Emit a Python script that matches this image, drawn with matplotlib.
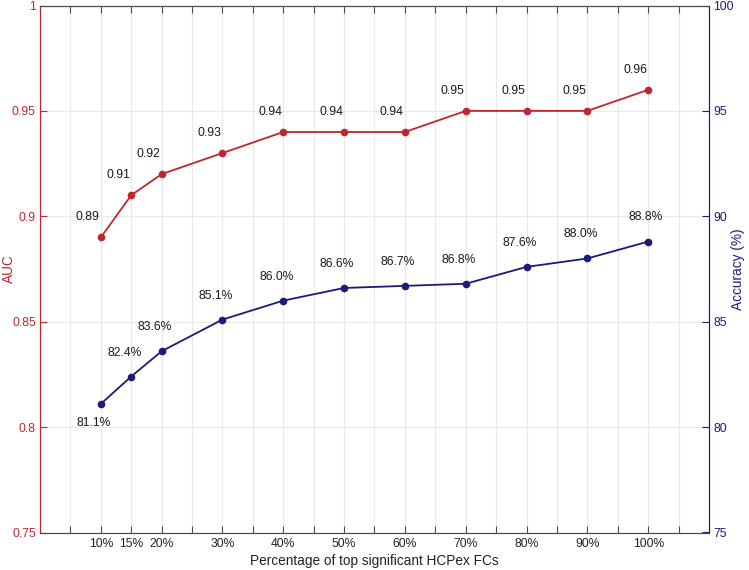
import matplotlib
matplotlib.use("Agg")
import matplotlib.pyplot as plt

# data
pct = [10, 15, 20, 30, 40, 50, 60, 70, 80, 90, 100]
auc = [0.89, 0.91, 0.92, 0.93, 0.94, 0.94, 0.94, 0.95, 0.95, 0.95, 0.96]
acc = [81.1, 82.4, 83.6, 85.1, 86.0, 86.6, 86.7, 86.8, 87.6, 88.0, 88.8]
xtick_pos = list(range(5, 110, 5))
xtick_lab = ["%d%%" % v if v in pct else "" for v in xtick_pos]

RED = "#C0262D"
BLUE = "#1B1B78"
GRID = "#E8E8E8"
AX = "#4A4A4A"

plt.rcParams["font.family"] = ["Liberation Sans", "DejaVu Sans"]

fig = plt.figure(figsize=(7.49, 5.70), dpi=100)
ax = fig.add_axes([40 / 749, 37.5 / 570, 669 / 749, 527 / 570])
ax2 = ax.twinx()

ax.set_xlim(0, 110)
ax.set_ylim(0.75, 1.0)
ax2.set_ylim(75, 100)

ax.set_xticks(xtick_pos)
ax.set_xticklabels(xtick_lab, color="#222222", fontsize=8.7)
ax.set_yticks([0.75, 0.8, 0.85, 0.9, 0.95, 1.0])
ax.set_yticklabels(["0.75", "0.8", "0.85", "0.9", "0.95", "1"], fontsize=8.7)
ax2.set_yticks([75, 80, 85, 90, 95, 100])
ax2.set_yticklabels(["75", "80", "85", "90", "95", "100"], fontsize=8.7)

ax.grid(True, color=GRID, linewidth=0.8)
ax.set_axisbelow(True)

ax.tick_params(axis="x", direction="in", top=True, length=5, width=0.8,
               color=AX, pad=4)
ax.tick_params(axis="y", direction="in", length=5, width=0.8,
               colors=RED, pad=3)
ax2.tick_params(axis="y", direction="in", length=5, width=0.8,
                colors=BLUE, pad=3)

for a in (ax, ax2):
    a.spines["top"].set_color(AX)
    a.spines["bottom"].set_color(AX)
    a.spines["left"].set_color(RED)
    a.spines["right"].set_color(BLUE)
    for s in a.spines.values():
        s.set_linewidth(0.8)

ax.plot(pct, auc, color=RED, linewidth=1.3, marker="o", markersize=4.5)
ax2.plot(pct, acc, color=BLUE, linewidth=1.3, marker="o", markersize=4.5)

for x, y in zip(pct, auc):
    ax.annotate("%.2f" % y, (x, y), textcoords="offset pixels",
                xytext=(-13, 20), ha="center", va="center",
                fontsize=8.7, color="#1a1a1a")

for i, (x, y) in enumerate(zip(pct, acc)):
    off = (-7, -19) if i == 0 else (-7, 24)
    if x == 100:
        off = (-3, 25)
    ax2.annotate("%.1f%%" % y, (x, y), textcoords="offset pixels",
                 xytext=off, ha="center", va="center",
                 fontsize=8.7, color="#1a1a1a")

ax.set_xlabel("Percentage of top significant HCPex FCs", labelpad=3,
              color="#222222", fontsize=9.8)
ax.set_ylabel("AUC", color=RED, fontsize=9.8, va="center")
ax2.set_ylabel("Accuracy (%)", color=BLUE, fontsize=9.8, va="center")
ax.yaxis.set_label_coords(-31 / 669, 0.5)
ax2.yaxis.set_label_coords(1 + 29 / 669, 0.5)

fig.savefig("out.png", dpi=100)
